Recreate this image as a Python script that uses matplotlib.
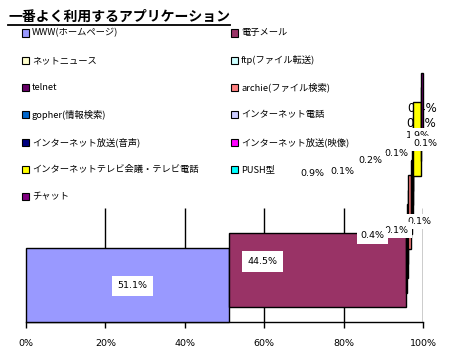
import matplotlib

matplotlib.use("Agg")
import matplotlib.pyplot as plt  # noqa: E402
from matplotlib.lines import Line2D  # noqa: E402
from matplotlib.patches import Rectangle  # noqa: E402
import numpy as np  # noqa: E402

plt.rcParams["font.family"] = ["Noto Sans CJK JP", "DejaVu Sans"]

TITLE = "一番よく利用するアプリケーション"
APPS = [
    "WWW(ホームページ)", "電子メール", "ネットニュース", "ftp(ファイル転送)",
    "telnet", "archie(ファイル検索)", "gopher(情報検索)", "インターネット電話",
    "インターネット放送(音声)", "インターネット放送(映像)",
    "インターネットテレビ会議・テレビ電話", "PUSH型", "チャット",
]
SHARE = [51.1, 44.5, 0.4, 0.1, 0.1, 0.9, 0.1, 0.2, 0.1, 0.1, 1.9, 0.1, 0.4]
COLORS = [
    "#9999FF", "#993366", "#FFFFCC", "#CCFFFF", "#660066", "#FF8080", "#0066CC",
    "#CCCCFF", "#000080", "#FF00FF", "#FFFF00", "#00FFFF", "#800080",
]
XTICKS = [0, 20, 40, 60, 80, 100]

# label offsets from segment centre, in pixels (x right, y up)
LABEL_OFF = [(5, -1), (-55, 9), (-34, 20), (-11, 11), (12, 5), (-97, 38),
             (-69, 26), (-42, 22), (-17, 15), (12, 10), (1, 3), (0, 1), (0, 1)]

W, H = 449, 360
STEP = 14.6    # vertical shift of each series (pseudo 3-D look)
BAR_H = 74


def fx(px):
    return px / W


def fy(py):
    return 1 - py / H


fig = plt.figure(figsize=(W / 100, H / 100), dpi=100)
ax = fig.add_axes([fx(26), fy(322), fx(423) - fx(26), fy(208) - fy(322)])
ax.set_xlim(0, 100)
ax.set_ylim(0, 322 - 208)

n = len(SHARE)
left = np.concatenate([[0], np.cumsum(SHARE)[:-1]])
ycen = BAR_H / 2 + STEP * np.arange(n)
ax.barh(ycen, SHARE, left=left, height=BAR_H, color=COLORS, edgecolor="black",
        linewidth=1, zorder=3, clip_on=False)

ax.vlines(XTICKS[1:], 0, 322 - 208, color="black", lw=1, zorder=1)

for s in ("left", "top", "right"):
    ax.spines[s].set_visible(False)
ax.spines["bottom"].set_linewidth(1)
ax.set_yticks([])
ax.set_xticks(XTICKS)
ax.set_xticklabels([f"{t}%" for t in XTICKS], family="DejaVu Sans")
ax.tick_params(axis="x", length=4, width=1, pad=8, labelsize=6.8)

for i, v in enumerate(SHARE):
    big = v > 10
    back = i >= 11   # last two labels sit behind the thin bars
    ax.annotate(f"{v:.1f}%", xy=(left[i] + v / 2, ycen[i]), xytext=LABEL_OFF[i],
                textcoords="offset pixels", ha="center", va="center",
                fontsize=8.5 if back else 6.8, family="DejaVu Sans",
                zorder=2 if back else 6 - i * 0.01, annotation_clip=False,
                bbox=None if back else dict(
                    boxstyle="square,pad=%.2f" % (0.6 if big else 0.35),
                    fc="white", ec="none"))

# legend, row-wise in two columns
for i, (name, col) in enumerate(zip(APPS, COLORS)):
    r, c = divmod(i, 2)
    x0 = 22 if c == 0 else 231
    yc = 33 + r * 27.3
    fig.add_artist(Rectangle((fx(x0), fy(yc + 3.5)), 7 / W, 7 / H,
                             transform=fig.transFigure, fc=col, ec="black", lw=0.8))
    fig.text(fx(x0 + 10), fy(yc), name, fontsize=6.7, ha="left", va="center")

t = fig.text(fx(8), fy(16.5), TITLE, fontsize=10, fontweight="bold",
             ha="left", va="center")
fig.canvas.draw()
bb = t.get_window_extent()
fig.add_artist(Line2D([bb.x0 / W, bb.x1 / W], [fy(24.5), fy(24.5)],
                      transform=fig.transFigure, color="black", lw=1.3))

fig.savefig("out.png", dpi=100)
